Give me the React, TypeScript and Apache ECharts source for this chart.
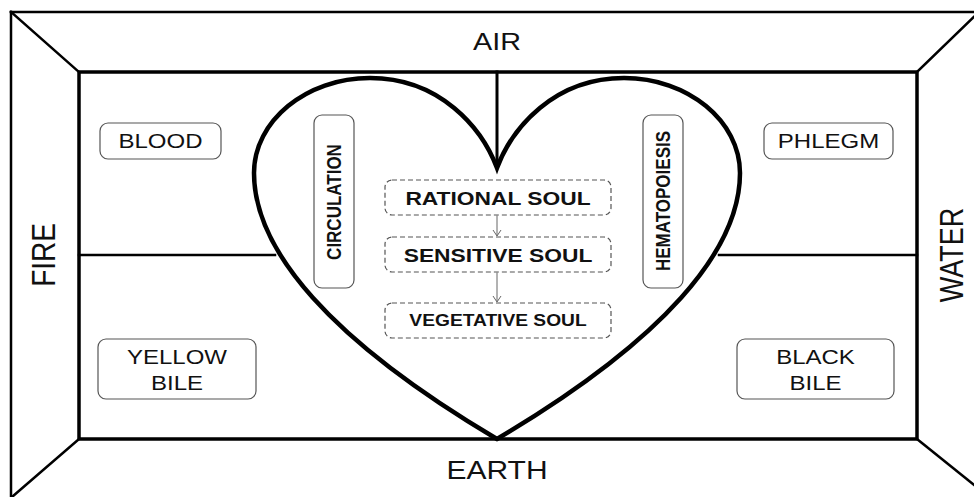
import React, { useEffect, useRef } from "react";
import * as echarts from "echarts";

const elements = ["AIR", "EARTH", "FIRE", "WATER"];
const humors = ["BLOOD", "PHLEGM", "YELLOW\nBILE", "BLACK\nBILE"];
const processes = ["CIRCULATION", "HEMATOPOIESIS"];
const souls = ["RATIONAL SOUL", "SENSITIVE SOUL", "VEGETATIVE SOUL"];

const HEART_D =
  "M497,168 C482,128 440,78 370,78 C306,78 254,121 254,173 C254,250 330,340 497,439 C664,340 740,250 740,173 C740,121 688,78 624,78 C554,78 512,128 497,168 Z";

let registered = false;
function ensureShape() {
  if (registered) return;
  echarts.graphic.registerShape("heart", echarts.graphic.extendPath(HEART_D, {}) as any);
  registered = true;
}

const FONT = "'Liberation Sans', Arial, sans-serif";
const SX = 1.2;

function text(t: string, x: number, y: number, size: number, opts: any = {}) {
  const rotated = !!opts.rotated;
  return {
    type: "text",
    x,
    y,
    rotation: rotated ? Math.PI / 2 : 0,
    scaleX: rotated ? 1 : SX,
    scaleY: rotated ? SX : 1,
    z: 10,
    style: {
      text: t,
      x: 0,
      y: 0,
      fill: "#111",
      fontSize: size,
      fontFamily: FONT,
      fontWeight: opts.bold ? "bold" : "normal",
      align: "center",
      verticalAlign: "middle",
      lineHeight: opts.lineHeight || size * 1.2,
    },
  };
}

function line(x1: number, y1: number, x2: number, y2: number, w: number, color = "#000") {
  return {
    type: "line",
    shape: { x1, y1, x2, y2 },
    style: { stroke: color, lineWidth: w, lineCap: "square" },
  };
}

function box(x: number, y: number, w: number, h: number, dashed = false) {
  return {
    type: "rect",
    z: 5,
    shape: { x, y, width: w, height: h, r: dashed ? 7 : 8 },
    style: {
      fill: "#fff",
      stroke: "#555",
      lineWidth: 1.2,
      lineDash: dashed ? [5, 3] : null,
    },
  };
}

function arrow(x: number, y1: number, y2: number) {
  return [
    line(x, y1, x, y2 - 1, 1, "#666"),
    {
      type: "polyline",
      shape: { points: [[x - 4, y2 - 6], [x, y2], [x + 4, y2 - 6]] },
      style: { stroke: "#666", lineWidth: 1, fill: null },
    },
  ];
}

export default function App() {
  const ref = useRef<HTMLDivElement>(null);
  useEffect(() => {
    ensureShape();
    const chart = echarts.init(ref.current!, null, { renderer: "svg" });
    const graphic: any[] = [
      // outer frame
      line(11, 12, 11, 500, 2.5),
      line(11, 12, 980, 12, 2.5),
      line(11, 12, 79, 72, 2.5),
      line(917, 72, 979, 12, 2.5),
      line(79, 439, 12, 497, 2.5),
      line(917, 439, 989, 497, 2.5),
      // inner rect
      {
        type: "rect",
        shape: { x: 79, y: 72, width: 838, height: 367 },
        style: { fill: null, stroke: "#000", lineWidth: 3.5 },
      },
      // mid lines
      line(79, 255, 275, 255, 2.5),
      line(719, 255, 917, 255, 2.5),
      line(497, 72, 497, 166, 3),
      // heart
      {
        type: "heart",
        x: 0,
        y: 0,
        z: 3,
        style: { fill: null, stroke: "#000", lineWidth: 4.5, lineJoin: "miter" },
      },
      // element labels
      text(elements[0], 497, 42, 24),
      text(elements[1], 497, 470, 25),
      text(elements[2], 44, 255, 28, { rotated: true }),
      text(elements[3], 952, 255, 27, { rotated: true }),
      // humors
      box(100, 123, 121, 36),
      text(humors[0], 160.5, 141.5, 20),
      box(764, 123, 129, 36),
      text(humors[1], 828.5, 141.5, 20),
      box(98, 339, 158, 60),
      text(humors[2], 177, 370, 20, { lineHeight: 26 }),
      box(737, 339, 157, 60),
      text(humors[3], 815.5, 370, 20, { lineHeight: 26 }),
      // processes
      box(314, 115, 40, 173),
      text(processes[0], 334, 202, 17, { rotated: true, bold: true }),
      box(643, 115, 40, 173),
      text(processes[1], 663, 201, 17, { rotated: true, bold: true }),
      // souls
      box(385, 180, 226, 35, true),
      text(souls[0], 498, 198, 19, { bold: true }),
      box(385, 237, 226, 35, true),
      text(souls[1], 498, 255, 19, { bold: true }),
      box(385, 303, 226, 35, true),
      text(souls[2], 498, 321, 16, { bold: true }),
      ...arrow(497, 216, 236),
      ...arrow(497, 273, 302),
    ];
    chart.setOption({
      animation: false,
      backgroundColor: "#fff",
      graphic,
    });
    return () => chart.dispose();
  }, []);
  return (
    <div
      ref={ref}
      style={{ position: "fixed", left: 0, top: 0, width: 974, height: 497, background: "#fff" }}
    />
  );
}
